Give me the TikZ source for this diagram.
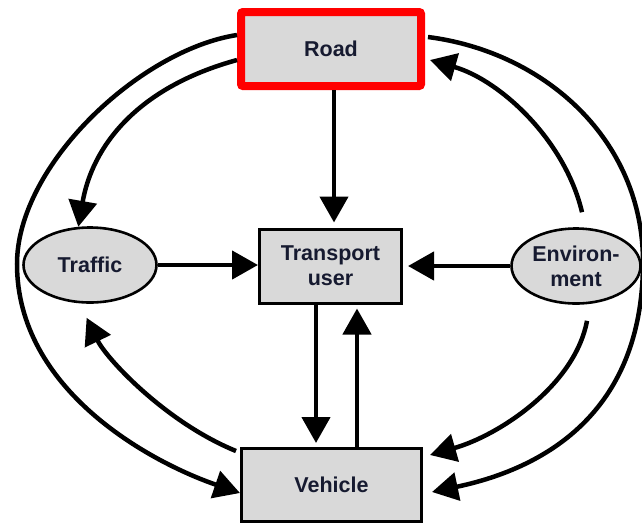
\documentclass[tikz,border=0pt]{standalone}
\usepackage{fontspec}
\setmainfont{Liberation Sans}
\usetikzlibrary{arrows.meta,shapes.geometric,calc}

\definecolor{boxgrey}{RGB}{217,217,217}
\definecolor{roadred}{RGB}{255,0,0}
\definecolor{labelink}{RGB}{22,26,48}

\tikzset{
  label font/.style={font=\fontsize{21.5}{25}\selectfont\bfseries, text=labelink, align=center},
  factorbox/.style={draw=black, line width=3pt, fill=boxgrey, label font,
    minimum width=180pt, minimum height=73pt, inner sep=0pt},
  roadbox/.style={factorbox, draw=roadred, line width=8pt, rounded corners=2pt,
    minimum height=74pt},
  factoroval/.style={ellipse, draw=black, line width=2.6pt, fill=boxgrey, label font,
    minimum width=133pt, minimum height=75pt, inner sep=0pt},
  flow/.style={line width=4.5pt, -{Triangle[length=26pt,width=28pt]}},
}

\begin{document}
\begin{tikzpicture}[x=1pt,y=-1pt]
  \useasboundingbox (0,0) rectangle (642,523);

  % factors
  \node[roadbox] (road) at (331,49) {Road};
  \node[factorbox, minimum width=142pt, minimum height=74pt] (tu) at (330.5,266) {Transport\\user};
  \node[factorbox] (veh) at (331.5,485) {Vehicle};
  \node[factoroval] (traffic) at (90,265) {Traffic};
  \node[factoroval, minimum width=129pt] (env) at (576,266) {Environ-\\ment};

  % turning points of the two outer loops
  \coordinate (wl) at (17,264);
  \coordinate (wr) at (643,262);

  % straight influences
  \draw[flow] ([xshift=3pt]road.south) -- ([xshift=3.5pt,yshift=5pt]tu.north);
  \draw[flow] (traffic.east) -- (traffic.east -| tu.west);
  \draw[flow] (env.west) -- ([xshift=5pt]env.west -| tu.east);
  \draw[flow] ([xshift=-14.5pt]tu.south) -- ([xshift=-15.5pt,yshift=4pt]veh.north);
  \draw[flow] ([xshift=25.5pt]veh.north) -- ([xshift=26.5pt,yshift=-4pt]tu.south);

  % curved influences, left side
  \draw[flow] ([yshift=14pt]road.west) .. controls (140,50) and (17,165) .. (wl)
              .. controls (17,390) and (150,462) .. ([yshift=-8pt]veh.west);
  \draw[flow] ([yshift=-11pt]road.west) .. controls (135,88) and (92,148) .. (traffic.107);
  \draw[flow] ([xshift=-4pt,yshift=-4pt]veh.north west) .. controls (165,422) and (106,358)
              .. ([yshift=-14pt]traffic.265);

  % curved influences, right side
  \draw[flow] ([xshift=3pt,yshift=12pt]road.east) .. controls (545,52) and (643,140) .. (wr)
              .. controls (643,400) and (560,465) .. ([xshift=9pt,yshift=-7pt]veh.east);
  \draw[flow] ([xshift=6pt,yshift=15pt]env.north) .. controls (565,140) and (500,80)
              .. ([xshift=5pt,yshift=-11pt]road.east);
  \draw[flow] ([xshift=11pt,yshift=-16pt]env.south) .. controls (575,385) and (500,435)
              .. ([xshift=7pt,yshift=-8pt]veh.north east);
\end{tikzpicture}
\end{document}
